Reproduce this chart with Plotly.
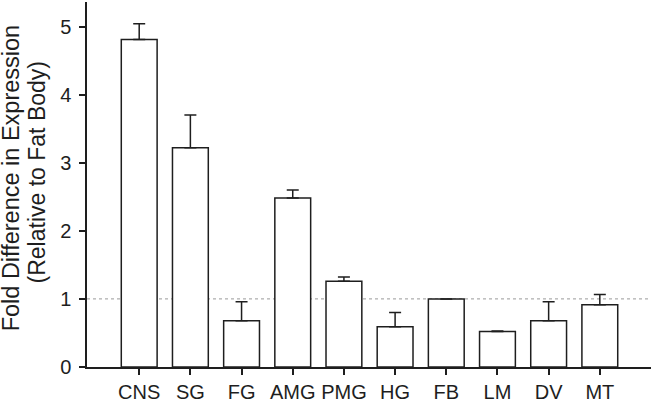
import plotly.graph_objects as go

tissues = ["CNS", "SG", "FG", "AMG", "PMG", "HG", "FB", "LM", "DV", "MT"]
fold_change = [4.81, 3.22, 0.68, 2.48, 1.26, 0.59, 1.00, 0.52, 0.68, 0.915]
sem_upper = [0.23, 0.48, 0.28, 0.12, 0.06, 0.21, 0.0, 0.01, 0.28, 0.15]

ink = "#1e1e1e"
font = "Liberation Sans, Arial, sans-serif"

fig = go.Figure()
fig.add_trace(go.Bar(
    x=tissues,
    y=fold_change,
    width=0.7,
    marker=dict(color="white", line=dict(color=ink, width=1.5)),
    error_y=dict(type="data", array=sem_upper, arrayminus=[0] * len(sem_upper),
                 color=ink, thickness=1.5, width=6),
))

# reference line at 1 (no change vs fat body)
fig.add_shape(type="line", xref="paper", x0=0, x1=1, yref="y", y0=1, y1=1,
              line=dict(color="#9a9a9a", width=1, dash="dot"), layer="below")

# y title as two rotated lines so the line gap can be set
fig.add_annotation(
    text="Fold Difference in Expression",
    xref="paper", yref="paper", x=-0.134, y=0.518, xanchor="center", yanchor="middle",
    textangle=-90, showarrow=False, font=dict(family=font, size=23.5, color=ink),
)
fig.add_annotation(
    text="(Relative to Fat Body)",
    xref="paper", yref="paper", x=-0.088, y=0.534, xanchor="center", yanchor="middle",
    textangle=-90, showarrow=False, font=dict(family=font, size=23, color=ink),
)

fig.update_layout(
    width=653, height=401,
    margin=dict(l=87, r=2, t=2, b=34),
    plot_bgcolor="white", paper_bgcolor="white",
    showlegend=False,
    font=dict(family=font, size=20, color=ink),
)
fig.update_xaxes(
    range=[-1.02, 10.0], showline=True, linecolor=ink, linewidth=1.5,
    ticks="outside", ticklen=6, tickwidth=1.5, tickcolor=ink,
    tickfont=dict(size=20), showgrid=False, zeroline=False, automargin=False,
)
fig.update_yaxes(
    range=[0, 5.36], tickvals=[0, 1, 2, 3, 4, 5], showline=True,
    linecolor=ink, linewidth=1.5, ticks="outside", ticklen=6, tickwidth=1.5,
    tickcolor=ink, tickfont=dict(size=20), ticklabelstandoff=4,
    showgrid=False, zeroline=False, automargin=False,
)

# drop the default 8px body margin so the figure fills the window exactly
fig.write_html("out.html", config={"displayModeBar": False},
               post_script="document.body.style.margin = '0';")
